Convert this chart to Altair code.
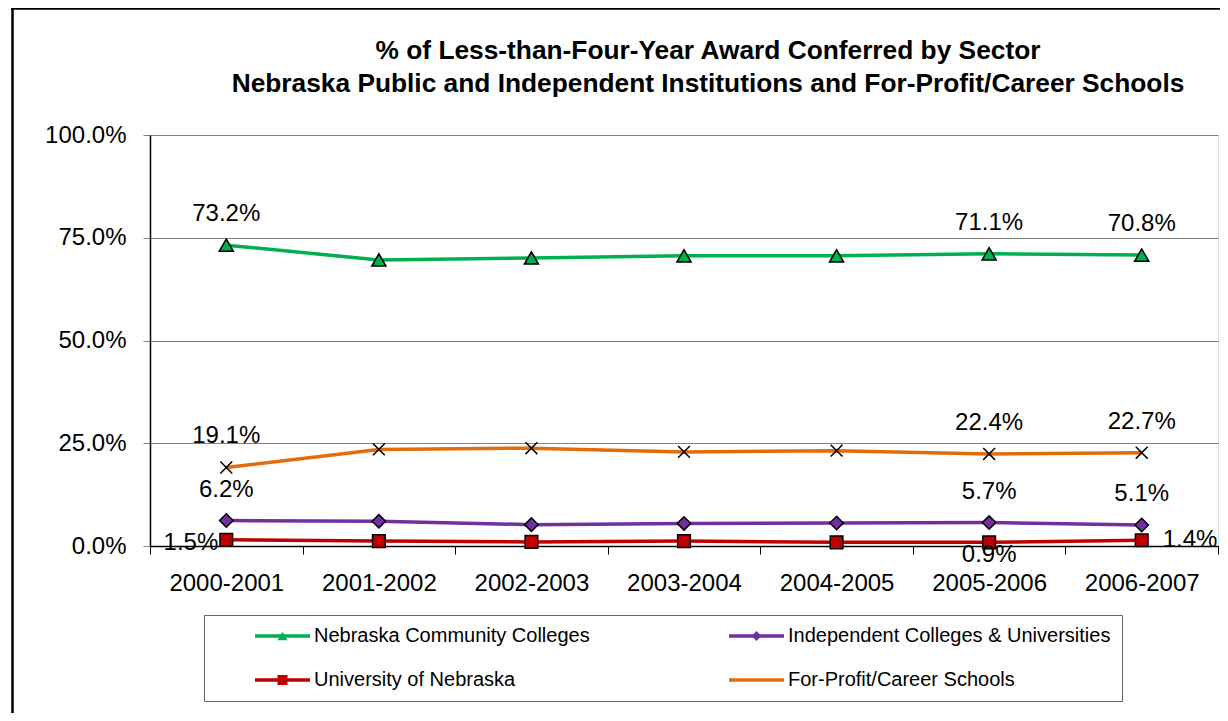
import altair as alt
import pandas as pd

years = ["2000-2001", "2001-2002", "2002-2003", "2003-2004", "2004-2005", "2005-2006", "2006-2007"]
series_names = [
    "Nebraska Community Colleges",
    "Independent Colleges & Universities",
    "University of Nebraska",
    "For-Profit/Career Schools",
]
community = [73.2, 69.6, 70.1, 70.6, 70.6, 71.1, 70.8]
independent = [6.2, 6.0, 5.2, 5.5, 5.6, 5.7, 5.1]
university = [1.5, 1.2, 1.0, 1.2, 0.9, 0.9, 1.4]
forprofit = [19.1, 23.5, 23.8, 22.9, 23.2, 22.4, 22.7]
labeled_years = ["2000-2001", "2005-2006", "2006-2007"]

colors = ["#00B050", "#7030A0", "#C00000", "#E46C0A"]
shapes = ["triangle-up", "diamond", "square", "M-1,-1L1,1M-1,1L1,-1"]
marker_sizes = [200, 140, 110, 150]

rows = []
for name, vals in zip(series_names, [community, independent, university, forprofit]):
    for y, v in zip(years, vals):
        rows.append({"Year": y, "Series": name, "Sector": name, "Value": v})
df = pd.DataFrame(rows)

FONT = "Liberation Sans, Arial, sans-serif"
UNI = "University of Nebraska"

x_enc = alt.X("Year:N", sort=years, title=None,
              scale=alt.Scale(type="band", paddingInner=0, paddingOuter=0),
              axis=alt.Axis(labelAngle=0, labelFontSize=24, labelColor="black", labelFont=FONT,
                            tickBand="extent", tickSize=8, tickColor="black", domainColor="black",
                            domainWidth=1.5, labelPadding=17, grid=False))
y_enc = alt.Y("Value:Q", title=None,
              scale=alt.Scale(domain=[0, 100], nice=False),
              axis=alt.Axis(values=[0, 25, 50, 75, 100],
                            labelExpr="format(datum.value, '.1f') + '%'",
                            labelFontSize=24, labelColor="black", labelFont=FONT,
                            tickSize=7, tickColor="#808080", domainColor="black", domainWidth=1.5,
                            labelPadding=17, gridColor="#808080", gridWidth=1))

leg_common = dict(title=None, orient="none", legendX=54, legendY=480, columns=2, direction="horizontal",
                  labelFontSize=20, labelFont=FONT, labelColor="black",
                  symbolOffset=57.5, labelOffset=21.5, rowPadding=24,
                  padding=11, labelLimit=600)

# line legend: carries the box and the labels
legend_lines = alt.Legend(**leg_common, columnPadding=99, strokeColor="#666666",
                          symbolType="M-5,0L5,0", symbolSize=121, symbolStrokeWidth=3.5, zindex=1)
# marker legend: same grid, no label text, drawn over the line symbols
legend_marks = alt.Legend(**leg_common, columnPadding=375, labelExpr="''",
                          symbolSize=100, symbolStrokeColor="black", symbolStrokeWidth=1.2, zindex=2)

base = alt.Chart(df)

lines = base.mark_line(strokeWidth=3.5).encode(
    x=x_enc, y=y_enc,
    stroke=alt.Stroke("Series:N", sort=series_names,
                      scale=alt.Scale(domain=series_names, range=colors), legend=legend_lines),
)

points = base.mark_point(filled=True, opacity=1, stroke="black", strokeWidth=1.5).encode(
    x=x_enc, y=y_enc,
    fill=alt.Fill("Sector:N", sort=series_names,
                  scale=alt.Scale(domain=series_names, range=colors), legend=legend_marks),
    shape=alt.Shape("Sector:N", sort=series_names,
                    scale=alt.Scale(domain=series_names, range=shapes), legend=legend_marks),
    size=alt.Size("Sector:N", scale=alt.Scale(domain=series_names, range=marker_sizes), legend=None),
)

lab = base.transform_filter(
    alt.FieldOneOfPredicate(field="Year", oneOf=labeled_years)
).transform_calculate(label="format(datum.Value, '.1f') + '%'")

txt = dict(fontSize=24, font=FONT, color="black", baseline="middle")
above = lab.transform_filter(alt.datum.Series != UNI).mark_text(dy=-31, **txt).encode(
    x=alt.X("Year:N", sort=years), y="Value:Q", text="label:N")
uni_left = lab.transform_filter((alt.datum.Series == UNI) & (alt.datum.Year == years[0])).mark_text(
    align="right", dx=-8, dy=3, **txt).encode(x=alt.X("Year:N", sort=years), y="Value:Q", text="label:N")
uni_below = lab.transform_filter((alt.datum.Series == UNI) & (alt.datum.Year == years[5])).mark_text(
    dy=13, **txt).encode(x=alt.X("Year:N", sort=years), y="Value:Q", text="label:N")
uni_right = lab.transform_filter((alt.datum.Series == UNI) & (alt.datum.Year == years[6])).mark_text(
    align="left", dx=21, **txt).encode(x=alt.X("Year:N", sort=years), y="Value:Q", text="label:N")

frame_df = pd.DataFrame({"f": [0]})
frame_left = alt.Chart(frame_df).mark_rule(color="black", strokeWidth=2.5).encode(
    x=alt.value(-137.5), y=alt.value(-127), y2=alt.value(700))
frame_top = alt.Chart(frame_df).mark_rule(color="black", strokeWidth=2.5).encode(
    x=alt.value(-139), x2=alt.value(1200), y=alt.value(-126.5))

chart = alt.layer(
    frame_left, frame_top, lines, points, above, uni_left, uni_below, uni_right
).resolve_legend(stroke="independent", fill="independent", shape="independent").properties(
    width=1068, height=411,
    autosize=alt.AutoSizeParams(type="none"),
    padding={"left": 142, "top": 127, "right": 2, "bottom": 167},
    title=alt.Title(
        ["% of Less-than-Four-Year Award Conferred by Sector",
         "Nebraska Public and Independent Institutions and For-Profit/Career Schools"],
        fontSize=26.3, font=FONT, fontWeight="bold", color="black", anchor="middle",
        frame="group", dx=24, dy=91, offset=0, lineHeight=33),
).configure_view(stroke="#808080", strokeWidth=1.5).configure(background="white")

chart.save("out.html", embed_options={"renderer": "svg", "actions": False})
